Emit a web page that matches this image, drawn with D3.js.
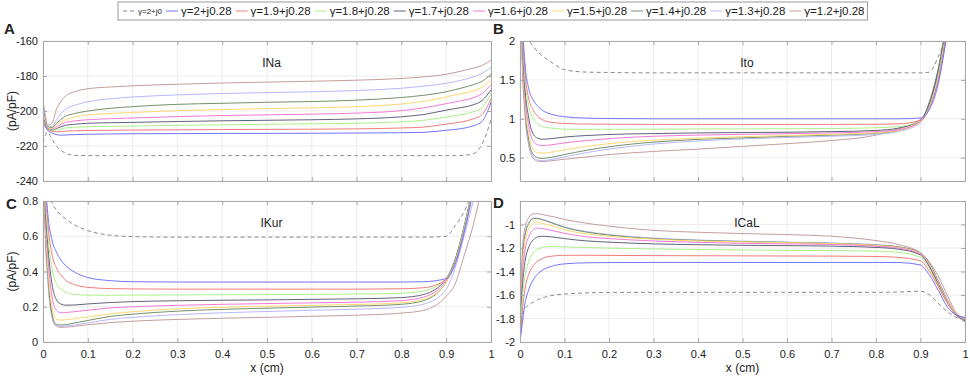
<!DOCTYPE html>
<html><head><meta charset="utf-8">
<script src="https://cdn.jsdelivr.net/npm/d3@7"></script>
<style>
body{margin:0;background:#fff;}
text{font-family:"Liberation Sans",Arial,Helvetica,sans-serif;fill:#222;}
</style></head>
<body><svg id="chart" width="970" height="377"></svg>
<script>
// ---------------- DATA ----------------
const xs = [0, 0.005, 0.01, 0.02, 0.03, 0.04, 0.05, 0.07, 0.1, 0.15, 0.2, 0.3, 0.4, 0.5, 0.6, 0.7, 0.8, 0.85, 0.9, 0.92, 0.94, 0.96, 0.98, 1];
const seriesNames = ["γ=2+j0", "γ=2+j0.28", "γ=1.9+j0.28", "γ=1.8+j0.28", "γ=1.7+j0.28", "γ=1.6+j0.28", "γ=1.5+j0.28", "γ=1.4+j0.28", "γ=1.3+j0.28", "γ=1.2+j0.28"];
const seriesColors = ["#8a8a8a", "#7474ff", "#f27c7c", "#aef08a", "#62627a", "#f27ad6", "#ffd873", "#74926a", "#b8b8ff", "#c49e9e"];
const xTicks = [0, 0.1, 0.2, 0.3, 0.4, 0.5, 0.6, 0.7, 0.8, 0.9, 1];

// Panel A: INa
const inaTicks = [-240, -220, -200, -180, -160];
const inaValues = [
 [-218,-214,-212,-216,-220,-222.5,-224,-225.3,-225.5,-225.5,-225.5,-225.5,-225.5,-225.5,-225.5,-225.5,-225.5,-225.5,-225.5,-225.5,-225.3,-224.5,-219,-205],
 [-207,-209,-211,-212.5,-213.5,-213.8,-213.7,-213.5,-213.3,-213.1,-213,-212.9,-212.8,-212.8,-212.7,-212.6,-212.4,-212.2,-211,-210.5,-209.8,-208.5,-206,-195],
 [-206,-208.5,-210.5,-211.5,-211.8,-211.8,-211.5,-211.3,-211.1,-211,-210.9,-210.8,-210.6,-210.5,-210.4,-210.2,-209.7,-209.2,-207.5,-206.8,-206,-204.5,-202,-193],
 [-205,-208,-210,-211,-210.8,-210.3,-209.7,-209.3,-209,-208.8,-208.6,-208.2,-207.9,-207.6,-207.3,-207,-206.2,-205.3,-203.5,-202.7,-201.8,-200.5,-198,-190],
 [-204,-207.5,-210,-211,-210,-209,-208.2,-207.6,-207,-206.7,-206.5,-206,-205.6,-205.3,-205,-204.5,-203.3,-202,-199.5,-198.6,-197.8,-196.5,-194,-188],
 [-203,-207,-210,-210.5,-209,-207.7,-206.6,-205.7,-205,-204.4,-204,-203.2,-202.6,-202.2,-201.8,-201.2,-199.8,-198.2,-195.8,-194.8,-193.8,-192.5,-190,-185],
 [-201,-206,-209.5,-210,-208,-206.3,-205,-203.5,-202.3,-201.4,-200.8,-199.8,-199.2,-198.6,-198.2,-197.5,-196,-194.5,-192,-190.8,-189.8,-188.5,-186.5,-182],
 [-199,-205,-209,-209.5,-207,-204.8,-203,-201.5,-200,-198.5,-197.5,-196.2,-195.6,-195,-194.6,-193.8,-192.3,-191,-189,-187.8,-186.5,-185,-183,-179],
 [-197,-204,-208.5,-209,-205,-201.5,-199,-196.8,-194.7,-193,-192,-190.8,-190,-189.5,-189,-188.3,-187,-185.8,-184.2,-183.2,-182,-180.5,-178.5,-175],
 [-194,-202,-208,-207,-199,-194.5,-191.5,-189,-187.3,-186.3,-185.6,-184.7,-184,-183.5,-183,-182.4,-181.4,-180.5,-179,-178,-176.8,-175.5,-174,-171]
];

// Panel B: Ito
const itoTicks = [0.5, 1, 1.5, 2];
const itoValues = [
 [2.6,2.4,2.25,2.02,1.93,1.86,1.81,1.73,1.63,1.6,1.595,1.59,1.59,1.59,1.59,1.59,1.59,1.59,1.59,1.6,1.8,2.1,2.5,3],
 [4,2.4,1.8,1.38,1.24,1.16,1.11,1.06,1.026,1.008,1.003,1,1,1,1,1,1,1,1.01,1.12,1.45,2.1,2.8,3.5],
 [4,2.3,1.7,1.25,1.11,1.03,0.99,0.955,0.94,0.932,0.93,0.928,0.927,0.927,0.927,0.928,0.93,0.935,0.98,1.14,1.5,2.15,2.8,3.5],
 [4,2.2,1.6,1.15,1,0.93,0.9,0.88,0.866,0.864,0.865,0.867,0.869,0.87,0.872,0.875,0.885,0.9,0.98,1.16,1.55,2.2,2.8,3.5],
 [4,2.1,1.5,1,0.8,0.75,0.737,0.745,0.765,0.785,0.798,0.81,0.818,0.823,0.827,0.835,0.85,0.88,0.99,1.2,1.62,2.25,2.9,3.5],
 [4,2,1.4,0.9,0.71,0.665,0.656,0.665,0.69,0.72,0.745,0.775,0.79,0.8,0.808,0.818,0.835,0.86,0.97,1.18,1.58,2.2,2.9,3.5],
 [4,1.9,1.3,0.8,0.6,0.565,0.558,0.57,0.6,0.645,0.68,0.725,0.75,0.77,0.785,0.8,0.82,0.85,0.96,1.17,1.56,2.2,2.9,3.5],
 [4,1.85,1.25,0.72,0.54,0.5,0.49,0.505,0.54,0.595,0.64,0.7,0.735,0.755,0.775,0.79,0.815,0.85,0.97,1.22,1.65,2.3,2.9,3.5],
 [4,1.8,1.2,0.68,0.51,0.47,0.462,0.475,0.51,0.565,0.61,0.675,0.715,0.74,0.76,0.775,0.8,0.835,0.95,1.16,1.55,2.15,2.9,3.5],
 [4,1.75,1.15,0.65,0.49,0.455,0.45,0.46,0.48,0.51,0.54,0.58,0.61,0.645,0.68,0.72,0.79,0.87,0.98,1.15,1.5,2.1,2.8,3.5]
];

// Panel C: IKur
const ikurTicks = [0, 0.2, 0.4, 0.6, 0.8];
const ikurValues = [
 [1.2,1,0.88,0.79,0.75,0.72,0.7,0.665,0.632,0.606,0.598,0.595,0.595,0.595,0.595,0.595,0.595,0.595,0.6,0.66,0.74,0.86,1,1.2],
 [1.5,0.95,0.75,0.58,0.51,0.465,0.435,0.397,0.366,0.348,0.342,0.34,0.34,0.34,0.34,0.34,0.34,0.342,0.36,0.44,0.62,0.85,1.1,1.4],
 [1.5,0.9,0.7,0.5,0.42,0.38,0.352,0.326,0.31,0.303,0.301,0.3,0.3,0.3,0.3,0.3,0.302,0.308,0.355,0.45,0.63,0.86,1.1,1.4],
 [1.5,0.85,0.64,0.42,0.33,0.3,0.285,0.27,0.266,0.265,0.266,0.267,0.268,0.269,0.27,0.272,0.277,0.29,0.36,0.46,0.65,0.87,1.1,1.4],
 [1.5,0.8,0.58,0.33,0.24,0.215,0.209,0.21,0.216,0.224,0.229,0.234,0.237,0.239,0.242,0.245,0.252,0.27,0.36,0.47,0.65,0.87,1.1,1.4],
 [1.5,0.75,0.52,0.26,0.18,0.166,0.167,0.172,0.18,0.193,0.2,0.208,0.214,0.218,0.222,0.226,0.235,0.255,0.35,0.46,0.64,0.86,1.1,1.4],
 [1.5,0.7,0.46,0.2,0.13,0.124,0.126,0.132,0.142,0.16,0.172,0.188,0.197,0.203,0.208,0.213,0.222,0.242,0.34,0.45,0.63,0.86,1.1,1.4],
 [1.5,0.66,0.42,0.16,0.1,0.096,0.098,0.108,0.122,0.145,0.158,0.175,0.185,0.192,0.198,0.204,0.214,0.235,0.34,0.46,0.66,0.88,1.1,1.4],
 [1.5,0.64,0.4,0.15,0.093,0.089,0.09,0.097,0.108,0.128,0.14,0.155,0.166,0.173,0.18,0.186,0.197,0.215,0.3,0.42,0.6,0.8,1.05,1.3],
 [1.5,0.62,0.38,0.14,0.088,0.083,0.084,0.089,0.098,0.11,0.118,0.128,0.135,0.14,0.146,0.152,0.164,0.18,0.26,0.33,0.49,0.66,0.88,1.1]
];

// Panel D: ICaL
const icalTicks = [-2, -1.8, -1.6, -1.4, -1.2, -1];
const icalValues = [
 [-2,-1.76,-1.72,-1.685,-1.66,-1.64,-1.625,-1.605,-1.592,-1.582,-1.578,-1.577,-1.577,-1.577,-1.577,-1.577,-1.577,-1.575,-1.568,-1.6,-1.67,-1.74,-1.79,-1.815],
 [-2,-1.85,-1.7,-1.55,-1.47,-1.42,-1.39,-1.357,-1.335,-1.326,-1.324,-1.323,-1.323,-1.323,-1.323,-1.323,-1.323,-1.324,-1.345,-1.43,-1.56,-1.7,-1.77,-1.79],
 [-2,-1.75,-1.58,-1.42,-1.35,-1.31,-1.29,-1.27,-1.262,-1.262,-1.263,-1.265,-1.266,-1.267,-1.268,-1.269,-1.272,-1.28,-1.31,-1.4,-1.53,-1.67,-1.76,-1.8],
 [-2,-1.65,-1.47,-1.31,-1.24,-1.21,-1.195,-1.187,-1.19,-1.196,-1.201,-1.208,-1.213,-1.217,-1.22,-1.222,-1.227,-1.237,-1.28,-1.38,-1.52,-1.66,-1.76,-1.8],
 [-2,-1.55,-1.35,-1.19,-1.13,-1.105,-1.1,-1.105,-1.12,-1.14,-1.15,-1.165,-1.172,-1.177,-1.18,-1.184,-1.195,-1.21,-1.26,-1.36,-1.51,-1.66,-1.77,-1.82],
 [-2,-1.45,-1.25,-1.1,-1.045,-1.03,-1.035,-1.05,-1.075,-1.105,-1.12,-1.14,-1.152,-1.16,-1.165,-1.17,-1.185,-1.2,-1.25,-1.35,-1.5,-1.65,-1.76,-1.81],
 [-2,-1.38,-1.18,-1.03,-0.985,-0.98,-0.99,-1.01,-1.045,-1.08,-1.1,-1.125,-1.14,-1.148,-1.155,-1.162,-1.178,-1.195,-1.245,-1.34,-1.49,-1.64,-1.75,-1.8],
 [-2,-1.33,-1.12,-0.99,-0.95,-0.95,-0.96,-0.985,-1.025,-1.065,-1.09,-1.12,-1.135,-1.145,-1.152,-1.16,-1.175,-1.19,-1.24,-1.33,-1.48,-1.64,-1.76,-1.82],
 [-2,-1.3,-1.1,-0.98,-0.945,-0.945,-0.955,-0.98,-1.02,-1.06,-1.085,-1.115,-1.132,-1.142,-1.15,-1.158,-1.172,-1.19,-1.24,-1.33,-1.48,-1.63,-1.75,-1.8],
 [-2,-1.25,-1.05,-0.94,-0.91,-0.908,-0.915,-0.93,-0.957,-0.99,-1.014,-1.05,-1.066,-1.077,-1.086,-1.1,-1.137,-1.17,-1.243,-1.32,-1.44,-1.6,-1.75,-1.83]
];

// ---------------- DRAWING ----------------
const svg = d3.select("#chart");
const panels = [
  {id:"A", title:"INa",  values:inaValues,  ticks:inaTicks,  domain:[-240,-160], box:[43,491,41,181],  xlabels:false, ylabel:true,  letter:[4,34]},
  {id:"B", title:"Ito",  values:itoValues,  ticks:itoTicks,  domain:[0.2,2],     box:[520,965,41,181], xlabels:false, ylabel:false, letter:[493,34]},
  {id:"C", title:"IKur", values:ikurValues, ticks:ikurTicks, domain:[0,0.8],     box:[43,491,201,342], xlabels:true,  ylabel:true,  letter:[6,209]},
  {id:"D", title:"ICaL", values:icalValues, ticks:icalTicks, domain:[-2,-0.8],   box:[520,965,201,342],xlabels:true,  ylabel:false, letter:[493,208]}
];
const frameColor = "#a8a8a8", gridColor = "#ececec";

panels.forEach((p, pi) => {
  const [l, r, t, b] = p.box;
  const x = d3.scaleLinear().domain([0, 1]).range([l, r]);
  const y = d3.scaleLinear().domain(p.domain).range([b, t]);
  const g = svg.append("g");
  const clipId = "clip" + pi;
  svg.append("clipPath").attr("id", clipId).append("rect")
    .attr("x", l).attr("y", t).attr("width", r - l).attr("height", b - t);

  // grid
  g.selectAll(".vg").data(xTicks).join("line")
    .attr("x1", d => x(d)).attr("x2", d => x(d)).attr("y1", t).attr("y2", b)
    .attr("stroke", gridColor).attr("stroke-width", 1);
  g.selectAll(".hg").data(p.ticks).join("line")
    .attr("x1", l).attr("x2", r).attr("y1", d => y(d)).attr("y2", d => y(d))
    .attr("stroke", gridColor).attr("stroke-width", 1);

  // lines
  const line = d3.line().x((d, i) => x(xs[i])).y(d => y(d)).curve(d3.curveMonotoneX);
  const lg = g.append("g").attr("clip-path", `url(#${clipId})`);
  const order = d3.range(p.values.length).reverse();
  order.forEach(si => {
    const path = lg.append("path").datum(p.values[si])
      .attr("d", line).attr("fill", "none")
      .attr("stroke", seriesColors[si]).attr("stroke-width", 1);
    if (si === 0) path.attr("stroke-dasharray", "4,3");
  });

  // axes (ticks inward) with frame
  const yAxisL = d3.axisLeft(y).tickValues(p.ticks).tickSize(-4).tickPadding(5).tickFormat(d => String(d));
  const yAxisR = d3.axisRight(y).tickValues(p.ticks).tickSize(-4).tickFormat("");
  const xAxisB = d3.axisBottom(x).tickValues(xTicks).tickSize(-4).tickPadding(8).tickFormat(p.xlabels ? (d => String(d)) : "");
  const xAxisT = d3.axisTop(x).tickValues(xTicks).tickSize(-4).tickFormat("");
  const styleAxis = sel => {
    sel.selectAll("path").attr("stroke", frameColor);
    sel.selectAll("line").attr("stroke", frameColor);
    sel.selectAll("text").attr("fill", "#222").style("font-size", "11px")
      .style("font-family", '"Liberation Sans",Arial,sans-serif');
  };
  g.append("g").attr("transform", `translate(${l},0)`).call(yAxisL).call(styleAxis);
  g.append("g").attr("transform", `translate(${r},0)`).call(yAxisR).call(styleAxis);
  g.append("g").attr("transform", `translate(0,${b})`).call(xAxisB).call(styleAxis);
  g.append("g").attr("transform", `translate(0,${t})`).call(xAxisT).call(styleAxis);

  // title inside
  g.append("text").attr("x", x(0.51)).attr("y", t + 26).attr("text-anchor", "middle")
    .style("font-size", "12px").text(p.title);

  // panel letter
  g.append("text").attr("x", p.letter[0]).attr("y", p.letter[1])
    .style("font-size", "15px").style("font-weight", "bold").text(p.id);

  if (p.ylabel) {
    g.append("text").attr("transform", `translate(16,${(t + b) / 2}) rotate(-90)`)
      .attr("text-anchor", "middle").style("font-size", "12px").text("(pA/pF)");
  }
  if (p.xlabels) {
    g.append("text").attr("x", (l + r) / 2).attr("y", b + 30).attr("text-anchor", "middle")
      .style("font-size", "12px").text("x (cm)");
  }
});

// ---------------- LEGEND ----------------
const legend = svg.append("g");
const legBox = legend.append("rect").attr("y", 2).attr("height", 18)
  .attr("fill", "#fff").attr("stroke", "#9a9a9a").attr("stroke-width", 1);
let cx = 123;
seriesNames.forEach((name, i) => {
  const ln = legend.append("line").attr("x1", cx).attr("x2", cx + 12).attr("y1", 11).attr("y2", 11)
    .attr("stroke", seriesColors[i]).attr("stroke-width", 1);
  if (i === 0) ln.attr("stroke-dasharray", "4,3");
  const tx = legend.append("text").attr("x", cx + 15).attr("y", i === 0 ? 14 : 15)
    .style("font-size", i === 0 ? "8px" : "11.5px").text(name);
  cx += 15 + tx.node().getComputedTextLength() + 4;
});
legBox.attr("x", 118).attr("width", cx - 118 - 1);
</script>
</body></html>
